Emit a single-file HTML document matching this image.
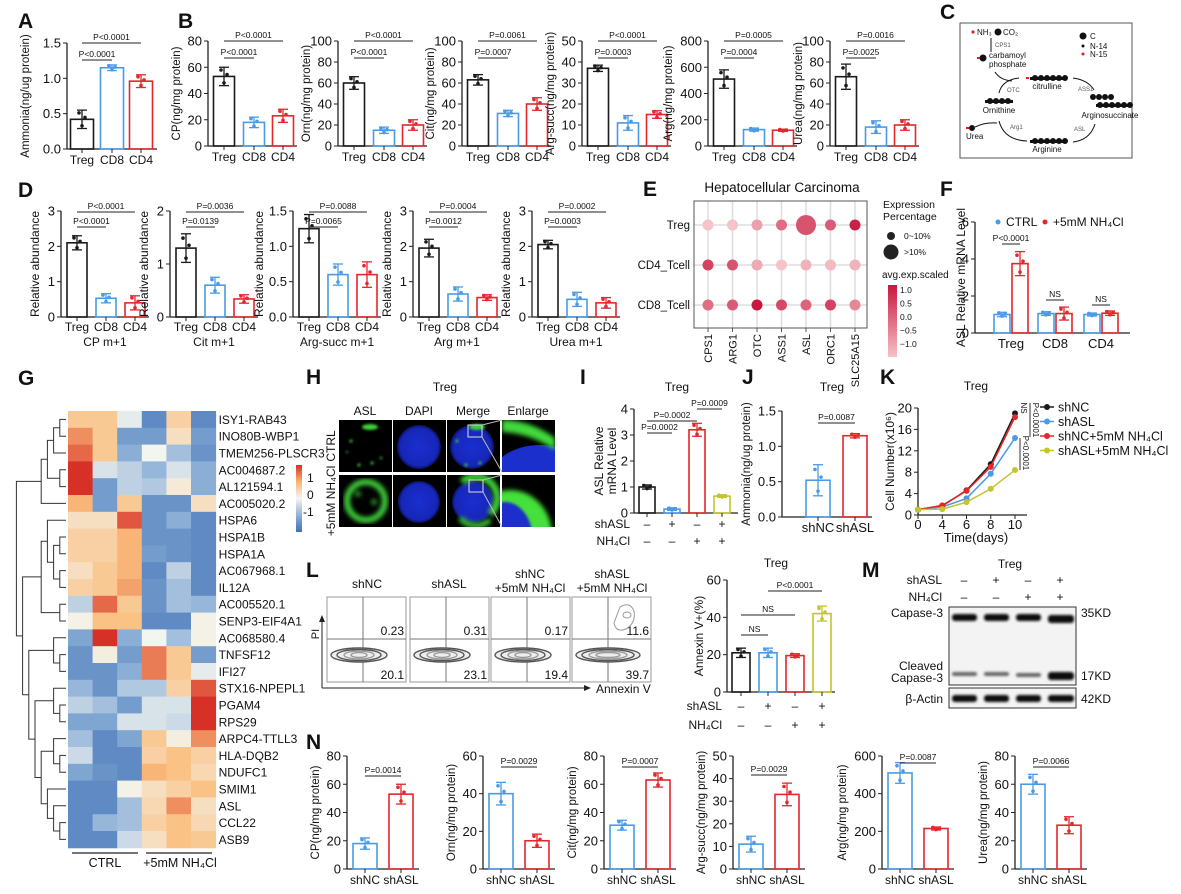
<!DOCTYPE html>
<html><head><meta charset="utf-8"><style>
html,body{margin:0;padding:0;background:#fff;}
svg{display:block;font-family:"Liberation Sans",Arial,sans-serif;}
</style></head><body>
<svg id="fig" xmlns="http://www.w3.org/2000/svg" width="1181" height="894" viewBox="0 0 1181 894">
<defs>
<radialGradient id="gblue" cx="50%" cy="50%" r="50%"><stop offset="0" stop-color="#1a2fd0"/><stop offset="0.85" stop-color="#1626b8"/><stop offset="1" stop-color="#0a1060"/></radialGradient>
<linearGradient id="gcbar" x1="0" y1="0" x2="0" y2="1"><stop offset="0" stop-color="#d73027"/><stop offset="0.25" stop-color="#fbb56f"/><stop offset="0.5" stop-color="#f4f6f0"/><stop offset="0.75" stop-color="#8fb2d8"/><stop offset="1" stop-color="#3f6fb5"/></linearGradient>
<linearGradient id="ecbar" x1="0" y1="0" x2="0" y2="1"><stop offset="0" stop-color="#c8163f"/><stop offset="1" stop-color="#f6c3c6"/></linearGradient>
<clipPath id="c1"><rect x="339" y="420" width="53" height="52"/></clipPath>
<clipPath id="c2"><rect x="393" y="420" width="53" height="52"/></clipPath>
<clipPath id="c3"><rect x="447" y="420" width="53" height="52"/></clipPath>
<clipPath id="c4"><rect x="502" y="420" width="53" height="52"/></clipPath>
<clipPath id="c5"><rect x="339" y="475" width="53" height="52"/></clipPath>
<clipPath id="c6"><rect x="393" y="475" width="53" height="52"/></clipPath>
<clipPath id="c7"><rect x="447" y="475" width="53" height="52"/></clipPath>
<clipPath id="c8"><rect x="502" y="475" width="53" height="52"/></clipPath>
<filter id="blur1"><feGaussianBlur stdDeviation="1.2"/></filter>
<filter id="blur2"><feGaussianBlur stdDeviation="2.5"/></filter>
</defs>

<g font-size="21" font-weight="bold" fill="#111">
<text x="18" y="28">A</text>
<text x="178" y="28">B</text>
<text x="940" y="19">C</text>
<text x="18" y="197">D</text>
<text x="643" y="196">E</text>
<text x="940" y="196">F</text>
<text x="18" y="385">G</text>
<text x="306" y="384">H</text>
<text x="580" y="384">I</text>
<text x="742" y="384">J</text>
<text x="880" y="384">K</text>
<text x="306" y="577">L</text>
<text x="862" y="577">M</text>
<text x="306" y="749">N</text>
</g>

<g font-size="8" fill="#111">
<rect x="960" y="23" width="172" height="135" fill="#fff" stroke="#555" stroke-width="1"/>
<circle cx="973" cy="32" r="1.6" fill="#d22"/>
<text x="977" y="35">NH₃</text>
<circle cx="998" cy="32" r="3.5" fill="#111"/>
<text x="1003" y="35">CO₂</text>
<line x1="991" y1="38" x2="991" y2="52" stroke="#111"/>
<text x="995" y="47" font-size="6" fill="#555">CPS1</text>
<circle cx="983" cy="58" r="3.5" fill="#111"/><rect x="977" y="57" width="3" height="2" fill="#d22"/>
<text x="989" y="58">carbamoyl</text>
<text x="989" y="67">phosphate</text>
<circle cx="1083" cy="36" r="3.5" fill="#111"/><text x="1090" y="39">C</text>
<circle cx="1083" cy="46" r="1.5" fill="#111"/><text x="1090" y="49">N-14</text>
<circle cx="1083" cy="54" r="1.5" fill="#d22"/><text x="1090" y="57">N-15</text>
<g fill="#111"><rect x="1030" y="77" width="36" height="3"/><circle cx="1035" cy="78" r="3"/><circle cx="1041" cy="78" r="3"/><circle cx="1047" cy="78" r="3"/><circle cx="1053" cy="78" r="3"/><circle cx="1059" cy="78" r="3"/><circle cx="1065" cy="78" r="3"/><rect x="1026" y="77" width="3" height="2" fill="#d22"/></g>
<text x="1047" y="89" text-anchor="middle">citrulline</text>
<path d="M1073 78 Q1088 80 1094 90" fill="none" stroke="#111"/>
<text x="1078" y="91" font-size="6" fill="#555">ASS1</text>
<g fill="#111"><circle cx="1093" cy="97" r="3"/><circle cx="1099" cy="97" r="3"/><circle cx="1105" cy="97" r="3"/><circle cx="1111" cy="97" r="3"/><rect x="1096" y="104" width="34" height="3"/><circle cx="1100" cy="105" r="3"/><circle cx="1106" cy="105" r="3"/><circle cx="1112" cy="105" r="3"/><circle cx="1118" cy="105" r="3"/><circle cx="1124" cy="105" r="3"/><circle cx="1130" cy="105" r="3"/></g>
<text x="1110" y="118" text-anchor="middle">Arginosuccinate</text>
<path d="M1095 124 Q1090 140 1073 142" fill="none" stroke="#111"/>
<text x="1074" y="131" font-size="6" fill="#555">ASL</text>
<g fill="#111"><rect x="1030" y="140" width="36" height="3"/><circle cx="1035" cy="141" r="3"/><circle cx="1041" cy="141" r="3"/><circle cx="1047" cy="141" r="3"/><circle cx="1053" cy="141" r="3"/><circle cx="1059" cy="141" r="3"/><circle cx="1065" cy="141" r="3"/></g>
<text x="1047" y="152" text-anchor="middle">Arginine</text>
<path d="M1027 141 Q1004 140 999 121" fill="none" stroke="#111"/>
<text x="1010" y="129" font-size="6" fill="#555">Arg1</text>
<path d="M997 123 Q985 122 975 127" fill="none" stroke="#111"/>
<circle cx="972" cy="128" r="3" fill="#111"/><rect x="966" y="127" width="3" height="2" fill="#d22"/>
<text x="966" y="139">Urea</text>
<g fill="#111"><rect x="985" y="100" width="28" height="3"/><circle cx="990" cy="101" r="3"/><circle cx="996" cy="101" r="3"/><circle cx="1002" cy="101" r="3"/><circle cx="1008" cy="101" r="3"/></g>
<text x="999" y="113" text-anchor="middle">Ornithine</text>
<path d="M999 93 Q1002 80 1019 78" fill="none" stroke="#111"/>
<path d="M995 72 Q1000 80 1012 81" fill="none" stroke="#111"/>
<text x="1007" y="92" font-size="6" fill="#555">OTC</text>
</g>

<g>
<text x="445" y="391" font-size="12" text-anchor="middle" fill="#111">Treg</text>
<text x="365" y="415" font-size="12" text-anchor="middle" fill="#111">ASL</text>
<text x="419" y="415" font-size="12" text-anchor="middle" fill="#111">DAPI</text>
<text x="473" y="415" font-size="12" text-anchor="middle" fill="#111">Merge</text>
<text x="528" y="415" font-size="12" text-anchor="middle" fill="#111">Enlarge</text>
<text transform="translate(335,446) rotate(-90)" font-size="12" text-anchor="middle" fill="#111">CTRL</text>
<text transform="translate(335,501) rotate(-90)" font-size="12" text-anchor="middle" fill="#111">+5mM NH₄Cl</text>
<rect x="339" y="420" width="53" height="52" fill="#000"/>
<g clip-path="url(#c1)" fill="#3fd23a" filter="url(#blur1)"><ellipse cx="370" cy="427" rx="8" ry="3"/><circle cx="351" cy="441" r="1.5"/><circle cx="359" cy="465" r="1.5"/><circle cx="372" cy="463" r="1.5"/><circle cx="381" cy="458" r="1.2"/><circle cx="347" cy="452" r="1"/></g>
<rect x="393" y="420" width="53" height="52" fill="#000"/>
<circle cx="419" cy="447" r="22" fill="url(#gblue)" clip-path="url(#c2)"/>
<rect x="447" y="420" width="53" height="52" fill="#000"/>
<circle cx="472" cy="447" r="22" fill="url(#gblue)" clip-path="url(#c3)"/>
<g clip-path="url(#c3)" fill="#3fd23a" filter="url(#blur1)"><ellipse cx="477" cy="427" rx="8" ry="3"/><circle cx="457" cy="441" r="1.5"/><circle cx="466" cy="465" r="1.5"/><circle cx="480" cy="463" r="1.5"/></g>
<rect x="468" y="425" width="14" height="12" fill="none" stroke="#ddd" stroke-width="1"/>
<line x1="482" y1="425" x2="502" y2="420" stroke="#bbb"/><line x1="482" y1="437" x2="502" y2="472" stroke="#bbb"/>
<rect x="502" y="420" width="53" height="52" fill="#000"/>
<g clip-path="url(#c4)"><ellipse cx="540" cy="480" rx="50" ry="35" fill="#1a2fcc"/><path d="M502 432 Q530 433 555 450 L555 438 Q530 420 502 420 Z" fill="#40d93a" filter="url(#blur2)"/></g>
<rect x="339" y="475" width="53" height="52" fill="#000"/>
<g clip-path="url(#c5)" fill="none" stroke="#3fd23a" filter="url(#blur2)"><circle cx="366" cy="501" r="19" stroke-width="6"/><circle cx="358" cy="494" r="2" fill="#3fd23a"/><circle cx="374" cy="502" r="2" fill="#3fd23a"/></g>
<rect x="393" y="475" width="53" height="52" fill="#000"/>
<circle cx="419" cy="502" r="21" fill="url(#gblue)" clip-path="url(#c6)"/>
<rect x="447" y="475" width="53" height="52" fill="#000"/>
<circle cx="473" cy="502" r="21" fill="url(#gblue)" clip-path="url(#c7)"/>
<g clip-path="url(#c7)" fill="none" stroke="#3fd23a" filter="url(#blur2)"><path d="M462 482 A21 21 0 0 1 490 514" stroke-width="7"/><path d="M460 518 A21 21 0 0 0 490 520" stroke-width="5"/></g>
<rect x="469" y="480" width="14" height="12" fill="none" stroke="#ddd"/>
<line x1="483" y1="480" x2="502" y2="475" stroke="#bbb"/><line x1="483" y1="492" x2="502" y2="527" stroke="#bbb"/>
<rect x="502" y="475" width="53" height="52" fill="#000"/>
<g clip-path="url(#c8)"><ellipse cx="510" cy="535" rx="42" ry="45" fill="#44e03a" filter="url(#blur2)"/><ellipse cx="505" cy="540" rx="28" ry="38" fill="#1a2fcc" filter="url(#blur1)"/></g>
<rect x="296" y="465" width="6" height="67" fill="url(#gcbar)"/>
<text x="307" y="482" font-size="12" fill="#111">1</text>
<text x="307" y="499" font-size="12" fill="#111">0</text>
<text x="303" y="516" font-size="12" fill="#111">-1</text>
</g>

<g font-size="12" fill="#111">
<text x="367" y="588" text-anchor="middle">shNC</text>
<text x="449" y="588" text-anchor="middle">shASL</text>
<text x="530" y="578" text-anchor="middle">shNC</text>
<text x="530" y="592" text-anchor="middle">+5mM NH₄Cl</text>
<text x="612" y="578" text-anchor="middle">shASL</text>
<text x="612" y="592" text-anchor="middle">+5mM NH₄Cl</text>
<line x1="322" y1="688" x2="322" y2="619" stroke="#222"/>
<path d="M319 622 L322 615 L325 622 Z" fill="#222"/>
<text transform="translate(319,634) rotate(-90)" text-anchor="middle" font-size="11">PI</text>
<line x1="322" y1="688" x2="587" y2="688" stroke="#222"/>
<path d="M584 685 L591 688 L584 691 Z" fill="#222"/>
<text x="596" y="693">Annexin V</text>
</g>

<g font-size="12" fill="#111">
<text x="1010" y="568" text-anchor="middle">Treg</text>
<text x="942" y="584" text-anchor="end">shASL</text>
<text x="942" y="601" text-anchor="end">NH₄Cl</text>
<text x="964" y="584" text-anchor="middle">–</text><text x="996" y="584" text-anchor="middle">+</text><text x="1028" y="584" text-anchor="middle">–</text><text x="1060" y="584" text-anchor="middle">+</text>
<text x="964" y="601" text-anchor="middle">–</text><text x="996" y="601" text-anchor="middle">–</text><text x="1028" y="601" text-anchor="middle">+</text><text x="1060" y="601" text-anchor="middle">+</text>
<rect x="949" y="607" width="127" height="78" fill="#f3f3f3" stroke="#333"/>
<rect x="949" y="688" width="127" height="20" fill="#f3f3f3" stroke="#333"/>
<g fill="#111" filter="url(#blur1)">
<rect x="952" y="614" width="25" height="7" rx="3"/><rect x="984" y="614" width="25" height="7" rx="3"/><rect x="1016" y="614" width="25" height="7" rx="3"/><rect x="1048" y="615" width="26" height="8" rx="3"/>
<rect x="952" y="672" width="25" height="4" rx="2" fill="#666"/><rect x="984" y="672" width="25" height="4" rx="2" fill="#666"/><rect x="1016" y="673" width="25" height="4" rx="2" fill="#666"/><rect x="1048" y="672" width="26" height="8" rx="3"/>
<rect x="952" y="695" width="25" height="7" rx="3"/><rect x="984" y="695" width="25" height="7" rx="3"/><rect x="1016" y="695" width="25" height="7" rx="3"/><rect x="1048" y="695" width="26" height="7" rx="3"/>
</g>
<text x="943" y="617" text-anchor="end">Capase-3</text>
<text x="943" y="670" text-anchor="end">Cleaved</text>
<text x="943" y="682" text-anchor="end">Capase-3</text>
<text x="943" y="703" text-anchor="end">β-Actin</text>
<text x="1081" y="617">35KD</text>
<text x="1081" y="680">17KD</text>
<text x="1081" y="703">42KD</text>
</g>
</svg>

<script>
// ===== DATA =====
const CATS3 = ['Treg','CD8','CD4'];
const A_vals = [0.42, 1.15, 0.96];   const A_err = [0.13, 0.04, 0.09];
const B1_vals = [53, 18, 23];  const B1_err = [7, 4, 5];
const B2_vals = [60, 15, 20];  const B2_err = [6, 3, 5];
const B3_vals = [63, 31, 40];  const B3_err = [5, 3, 6];
const B4_vals = [37, 11, 15];  const B4_err = [1.5, 3.5, 1.8];
const B5_vals = [510, 125, 120]; const B5_err = [70, 12, 8];
const B6_vals = [66, 18, 20];  const B6_err = [12, 6, 5];
const D1_vals = [2.1, 0.53, 0.4];  const D1_err = [0.2, 0.13, 0.2];
const D2_vals = [1.3, 0.6, 0.34];  const D2_err = [0.27, 0.15, 0.08];
const D3_vals = [1.25, 0.6, 0.6];  const D3_err = [0.2, 0.15, 0.18];
const D4_vals = [1.95, 0.65, 0.55]; const D4_err = [0.25, 0.2, 0.08];
const D5_vals = [2.05, 0.5, 0.4];  const D5_err = [0.12, 0.2, 0.15];
const F_ctrl = [1.0, 1.05, 1.0];  const F_ctrl_err = [0.12, 0.1, 0.08];
const F_nh4 = [3.75, 1.05, 1.07]; const F_nh4_err = [0.65, 0.35, 0.12];
const I_vals = [1.0, 0.15, 3.2, 0.65]; const I_err = [0.08, 0.05, 0.25, 0.05];
const J_vals = [0.52, 1.15]; const J_err = [0.22, 0.03];
const L_vals = [21, 21, 19.5, 42]; const L_err = [2.5, 2.5, 1, 4];
const N1_vals = [18, 53]; const N1_err = [4, 7];
const N2_vals = [40, 15]; const N2_err = [6, 3.5];
const N3_vals = [31, 63]; const N3_err = [3.5, 5];
const N4_vals = [11, 33]; const N4_err = [3.5, 5];
const N5_vals = [510, 215]; const N5_err = [55, 8];
const N6_vals = [60, 31]; const N6_err = [7, 6];
const K_days = ['0','4','6','8','10'];
const K_shNC = [1, 1.7, 4.6, 9.5, 19];
const K_shASL = [1, 1.5, 3.1, 7.7, 14.4];
const K_shNC_NH4 = [1, 1.8, 4.5, 9.0, 18.3];
const K_shASL_NH4 = [1, 1.1, 2.4, 4.9, 8.4];
const E_genes = ['CPS1','ARG1','OTC','ASS1','ASL','ORC1','SLC25A15'];
const E_rows = ['Treg','CD4_Tcell','CD8_Tcell'];
const E_expr = [[-1,-1,-0.6,0,0.3,0.2,0.9],[0.5,0.3,-0.7,-1,-0.8,-0.9,-0.8],[0,0.2,1,0.4,0.1,0.5,-0.3]];
const E_pct = [[0,0,0,0,1,0,0],[0,0,0,0,0,0,0],[0,0,0,0,0,0,0]];
const G_genes = ['ISY1-RAB43','INO80B-WBP1','TMEM256-PLSCR3','AC004687.2','AL121594.1','AC005020.2','HSPA6','HSPA1B','HSPA1A','AC067968.1','IL12A','AC005520.1','SENP3-EIF4A1','AC068580.4','TNFSF12','IFI27','STX16-NPEPL1','PGAM4','RPS29','ARPC4-TTLL3','HLA-DQB2','NDUFC1','SMIM1','ASL','CCL22','ASB9'];
const G_vals = [
[0.6,0.6,-0.1,-1.2,0.5,-1.2],[1.0,0.6,-1.0,-1.0,0.3,-1.0],[1.2,0.6,-0.8,0.0,-0.6,-1.1],[1.5,-0.2,-0.4,-0.7,-0.2,-0.8],
[1.5,-1.0,-0.4,-0.5,0.15,-0.8],[0.8,-1.0,0.6,-1.1,-1.1,0.3],[0.3,0.3,1.3,-1.1,-0.8,-1.2],[0.5,0.5,0.8,-1.1,-1.1,-1.2],
[0.5,0.5,0.8,-1.0,-1.1,-1.2],[0.3,0.6,0.8,-1.2,-0.4,-1.2],[0.5,0.6,0.9,-1.1,-0.6,-1.2],[-0.4,1.2,0.6,-1.1,-0.6,-0.7],
[0.05,0.7,0.7,-1.2,-1.2,0.05],[-0.9,1.5,-0.8,0.0,-0.6,0.05],[-1.1,0.1,-1.0,1.1,0.6,-1.0],[-1.1,-1.1,-0.8,1.1,0.6,-0.1],
[-0.7,-1.1,-0.5,-0.5,0.5,1.3],[-0.4,-0.6,-1.0,-0.2,-0.2,1.5],[-0.9,-0.9,-0.2,-0.2,-0.3,1.5],[-0.6,-1.2,-0.9,0.6,0.1,1.0],
[-0.3,-1.2,-1.2,0.5,0.7,0.5],[-0.9,-1.1,-1.2,0.8,0.7,0.4],[-1.2,-1.2,0.05,0.3,0.5,0.7],[-1.2,-1.2,-0.6,0.4,1.0,0.3],
[-1.2,-0.7,-0.6,0.5,0.7,0.4],[-1.2,-1.2,-0.3,0.3,0.7,0.6]];
const G_tree = [[[[[0,1],2],[3,4]],5],[[[6,[[7,8],[9,10]]],[11,12]],[[13,[14,15]],[[16,[17,18]],[[19,[20,21]],[22,[23,[24,25]]]]]]]];
const FLOW_q2 = ['0.23','0.31','0.17','11.6'];
const FLOW_q4 = ['20.1','23.1','19.4','39.7'];

// ===== HELPERS =====
const NS='http://www.w3.org/2000/svg';
const svg=document.getElementById('fig');
const BLK='#1a1a1a', BLU='#4a9ae6', RED='#e5262b', YEL='#c3c42e';
function mk(tag, attrs, parent, name){
  const e=document.createElementNS(NS,tag);
  for(const k in attrs) e.setAttribute(k,attrs[k]);
  
  
  (parent||svg).appendChild(e); return e;
}
function txt(x,y,s,opts,parent,name){
  const t=mk('text',Object.assign({x:x,y:y,'font-size':12,'text-anchor':'middle',fill:'#111'},opts||{}),parent,name);
  t.textContent=s; return t;
}
function sigBar(g,x1,x2,yy,label,name){
  mk('line',{x1:x1,x2:x2,y1:yy,y2:yy,stroke:'#222','stroke-width':1},g,name+'-line');
  txt((x1+x2)/2,yy-3,label,{'font-size':8.5},g,name+'-label');
}
function errDot(g,cx,yf,v,e,c,w,name){
  mk('rect',{x:cx-w/2,y:yf(v),width:w,height:Math.max(0,yf(0)-yf(v)),fill:'none',stroke:c,'stroke-width':1.6},g,name);
  mk('line',{x1:cx,x2:cx,y1:yf(v+e),y2:yf(Math.max(0,v-e)),stroke:c,'stroke-width':1.3},g,name+'-error');
  mk('line',{x1:cx-5,x2:cx+5,y1:yf(v+e),y2:yf(v+e),stroke:c,'stroke-width':1.3},g,name+'-cap');
  mk('line',{x1:cx-5,x2:cx+5,y1:yf(Math.max(0,v-e)),y2:yf(Math.max(0,v-e)),stroke:c,'stroke-width':1.3},g,name+'-cap');
  [[-3,0.7],[3,0.2],[0,-0.7]].forEach(d=>{
    mk('circle',{cx:cx+d[0],cy:yf(v+e*d[1]),r:1.8,fill:c},g,name+'-point');
  });
}
function axes(g,p,yf){
  mk('line',{x1:p.ax,y1:p.y1,x2:p.ax,y2:p.y0,stroke:'#222','stroke-width':1.3},g,'y-axis');
  mk('line',{x1:p.ax,y1:p.y0,x2:p.xend,y2:p.y0,stroke:'#222','stroke-width':1.3},g,'x-axis');
  p.ticks.forEach(t=>{
    mk('line',{x1:p.ax-4,x2:p.ax,y1:yf(t),y2:yf(t),stroke:'#222'},g,'y-tick');
    txt(p.ax-6,yf(t)+4.5,p.fmt?t.toFixed(p.fmt):String(t),{'text-anchor':'end','font-size':p.fs||13},g,'y-tick-label');
  });
  if(p.ylabel) txt(0,0,p.ylabel,{transform:'translate('+(p.ax-(p.ylo||30))+','+((p.y0+p.y1)/2)+') rotate(-90)','font-size':p.yfs||12},g,'y-axis-title');
}
function barPanel(p){
  const g=mk('g',{},svg,p.name);
  const yf=v=>p.y0-v/p.max*(p.y0-p.y1);
  axes(g,p,yf);
  p.vals.forEach((v,i)=>{
    const cx=p.ax+p.off[i];
    errDot(g,cx,yf,v,p.err[i],p.colors[i],p.w,'bar-'+(p.cats?p.cats[i]:i));
    mk('line',{x1:cx,x2:cx,y1:p.y0,y2:p.y0+4,stroke:'#222'},g,'x-tick');
    if(p.cats) txt(cx,p.y0+p.catdy,p.cats[i],{'font-size':p.cfs||12},g,'x-tick-label');
  });
  (p.sig||[]).forEach(s=>sigBar(g,p.ax+p.off[s[0]],p.ax+p.off[s[1]],s[3],s[2],'significance'));
  if(p.sub) txt(p.ax+44,p.y0+29,p.sub,{'font-size':12},g,'panel-subtitle');
  return {g:g,yf:yf};
}

// ===== A, B =====
barPanel({name:'panel-a-ammonia',ax:67,y0:149,y1:43,max:1.5,ticks:[0,0.5,1.0,1.5],fmt:1,off:[15,45,74],w:23,xend:157,vals:A_vals,err:A_err,colors:[BLK,BLU,RED],cats:CATS3,catdy:15,ylabel:'Ammonia(ng/ug protein)',ylo:38,yfs:11.5,sig:[[0,2,'P<0.0001',43],[0,1,'P<0.0001',60]]});
const Bdefs=[
 ['panel-b-cp',208,80,20,B1_vals,B1_err,'CP(ng/mg protein)',['P<0.0001','P<0.0001']],
 ['panel-b-orn',338,100,20,B2_vals,B2_err,'Orn(ng/mg protein)',['P<0.0001','P<0.0001']],
 ['panel-b-cit',462,100,20,B3_vals,B3_err,'Cit(ng/mg protein)',['P=0.0061','P=0.0007']],
 ['panel-b-argsucc',582,50,10,B4_vals,B4_err,'Arg-succ(ng/mg protein)',['P<0.0001','P=0.0003']],
 ['panel-b-arg',708,800,200,B5_vals,B5_err,'Arg(ng/mg protein)',['P=0.0005','P=0.0004']],
 ['panel-b-urea',830,100,20,B6_vals,B6_err,'Urea(ng/mg protein)',['P=0.0016','P=0.0025']]];
Bdefs.forEach(d=>{
  const ticks=[]; for(let t=0;t<=d[2];t+=d[3]) ticks.push(t);
  barPanel({name:d[0],ax:d[1],y0:146,y1:41,max:d[2],ticks:ticks,off:[16,46,75],w:21,xend:d[1]+89,vals:d[4],err:d[5],colors:[BLK,BLU,RED],cats:CATS3,catdy:15,ylabel:d[6],ylo:d[2]>=800?36:28,yfs:11.5,sig:[[0,2,d[7][0],41],[0,1,d[7][1],58]]});
});

// ===== D =====
const Ddefs=[
 ['panel-d-cp',61,3,[0,1,2,3],0,D1_vals,D1_err,['P<0.0001','P<0.0001'],'CP m+1'],
 ['panel-d-cit',170,2,[0,1,2],0,D2_vals,D2_err,['P=0.0036','P=0.0139'],'Cit m+1'],
 ['panel-d-argsucc',293,1.5,[0,0.5,1.0,1.5],1,D3_vals,D3_err,['P=0.0088','P=0.0065'],'Arg-succ m+1'],
 ['panel-d-arg',413,3,[0,1,2,3],0,D4_vals,D4_err,['P=0.0004','P=0.0012'],'Arg m+1'],
 ['panel-d-urea',532,3,[0,1,2,3],0,D5_vals,D5_err,['P=0.0002','P=0.0003'],'Urea m+1']];
Ddefs.forEach(d=>{
  barPanel({name:d[0],ax:d[1],y0:317,y1:211,max:d[2],ticks:d[3],fmt:d[4],off:[16,45,74],w:20,xend:d[1]+88,vals:d[5],err:d[6],colors:[BLK,BLU,RED],cats:CATS3,catdy:14,ylabel:'Relative abundance',ylo:d[4]?30:22,sig:[[0,2,d[7][0],212],[0,1,d[7][1],227]],sub:d[8]});
});

// ===== E dot plot =====
(function(){
  const g=mk('g',{},svg,'panel-e-dotplot');
  const gx=i=>708+i*24.5, gy=j=>225+j*40;
  txt(782,192,'Hepatocellular Carcinoma',{'font-size':13.5},g,'e-title');
  E_genes.forEach((n,i)=>mk('line',{x1:gx(i),x2:gx(i),y1:201,y2:328,stroke:'#ddd','stroke-width':1.5},g,'grid-line'));
  E_rows.forEach((n,j)=>mk('line',{x1:694,x2:867,y1:gy(j),y2:gy(j),stroke:'#ddd','stroke-width':1.5},g,'grid-line'));
  mk('rect',{x:694,y:201,width:173,height:127,fill:'none',stroke:'#555'},g,'e-frame');
  const col=v=>{const t=(v+1)/2; const a=[246,195,198], b=[200,22,63];
    return 'rgb('+a.map((c,k)=>Math.round(c+(b[k]-c)*t)).join(',')+')';};
  E_rows.forEach((r,j)=>{
    txt(690,gy(j)+4,r,{'text-anchor':'end','font-size':11.5},g,'e-row-label');
    E_genes.forEach((n,i)=>{
      mk('circle',{cx:gx(i),cy:gy(j),r:E_pct[j][i]?10:5.5,fill:col(E_expr[j][i])},g,'dot-'+r+'-'+n);
    });
  });
  E_genes.forEach((n,i)=>{
    mk('line',{x1:gx(i),x2:gx(i),y1:328,y2:332,stroke:'#555'},g,'x-tick');
    txt(0,0,n,{transform:'translate('+(gx(i)+4)+',334) rotate(-90)','text-anchor':'end','font-size':11},g,'e-gene-label');
  });
  txt(883,208,'Expression',{'text-anchor':'start','font-size':10.5},g,'e-legend-title');
  txt(883,220,'Percentage',{'text-anchor':'start','font-size':10.5},g,'e-legend-title');
  mk('circle',{cx:891,cy:236,r:4,fill:'#222'},g,'e-size-small');
  txt(904,239,'0~10%',{'text-anchor':'start','font-size':8.5},g,'e-size-label');
  mk('circle',{cx:891,cy:252,r:7.5,fill:'#222'},g,'e-size-large');
  txt(904,255,'>10%',{'text-anchor':'start','font-size':8.5},g,'e-size-label');
  txt(882,278,'avg.exp.scaled',{'text-anchor':'start','font-size':10},g,'e-color-title');
  mk('rect',{x:888,y:285,width:9,height:72,fill:'url(#ecbar)'},g,'e-colorbar');
  ['1.0','0.5','0.0','−0.5','−1.0'].forEach((s,k)=>txt(900,293+k*13.5,s,{'text-anchor':'start','font-size':8.5},g,'e-colorbar-label'));
})();

// ===== F grouped bars =====
(function(){
  const p={ax:975,y0:333,y1:222,max:6,ticks:[0,2,4,6],xend:1130,ylabel:'ASL Relative mRNA Level',ylo:10,yfs:12};
  const g=mk('g',{},svg,'panel-f-asl-mrna');
  const yf=v=>p.y0-v/p.max*(p.y0-p.y1);
  axes(g,p,yf);
  const grp=[36,80,126];
  CATS3.forEach((c,i)=>{
    const cx=p.ax+grp[i];
    errDot(g,cx-9,yf,F_ctrl[i],F_ctrl_err[i],BLU,16,'bar-ctrl-'+c);
    errDot(g,cx+9,yf,F_nh4[i],F_nh4_err[i],RED,16,'bar-nh4cl-'+c);
    txt(cx,p.y0+15,c,{'font-size':13},g,'x-tick-label');
  });
  sigBar(g,p.ax+grp[0]-9,p.ax+grp[0]+9,244,'P<0.0001','significance');
  sigBar(g,p.ax+grp[1]-9,p.ax+grp[1]+9,300,'NS','significance');
  sigBar(g,p.ax+grp[2]-9,p.ax+grp[2]+9,305,'NS','significance');
  mk('circle',{cx:998,cy:222,r:2.5,fill:BLU},g,'legend-ctrl-marker');
  txt(1006,226,'CTRL',{'text-anchor':'start','font-size':12},g,'legend-ctrl');
  mk('circle',{cx:1045,cy:222,r:2.5,fill:RED},g,'legend-nh4cl-marker');
  txt(1053,226,'+5mM NH₄Cl',{'text-anchor':'start','font-size':12},g,'legend-nh4cl');
})();

// ===== G heatmap =====
(function(){
  const g=mk('g',{},svg,'panel-g-heatmap');
  const x0=68, cw=24.6, y0=411, rh=16.8;
  const stops=[[-1.5,[63,111,181]],[-0.75,[143,178,216]],[0,[243,245,239]],[0.75,[251,190,125]],[1.5,[215,48,39]]];
  const col=v=>{v=Math.max(-1.5,Math.min(1.5,v));for(let k=0;k<4;k++){const a=stops[k],b=stops[k+1];if(v<=b[0]){const t=(v-a[0])/(b[0]-a[0]);return 'rgb('+a[1].map((c,m)=>Math.round(c+(b[1][m]-c)*t)).join(',')+')';}}};
  G_vals.forEach((row,r)=>{
    row.forEach((v,c)=>mk('rect',{x:x0+c*cw,y:y0+r*rh,width:cw+0.5,height:rh+0.5,fill:col(v)},g,'cell-'+G_genes[r]+'-'+c));
    txt(x0+6*cw+3,y0+r*rh+rh/2+4.5,G_genes[r],{'text-anchor':'start','font-size':12},g,'row-label');
  });
  function depth(n){return Array.isArray(n)?1+Math.max(depth(n[0]),depth(n[1])):0;}
  function draw(n){
    if(!Array.isArray(n)) return {y:y0+n*rh+rh/2,x:x0-2};
    const a=draw(n[0]), b=draw(n[1]); const x=x0-2-depth(n)*6.2;
    mk('path',{d:'M'+a.x+' '+a.y+'H'+x+'V'+b.y+'H'+b.x,fill:'none',stroke:'#333','stroke-width':1},g,'dendrogram-branch');
    return {y:(a.y+b.y)/2,x:x};
  }
  draw(G_tree);
  mk('line',{x1:72,x2:138,y1:853,y2:853,stroke:'#222','stroke-width':1.3},g,'group-line-ctrl');
  mk('line',{x1:146,x2:212,y1:853,y2:853,stroke:'#222','stroke-width':1.3},g,'group-line-nh4cl');
  txt(105,867,'CTRL',{'font-size':12.5},g,'group-label-ctrl');
  txt(180,867,'+5mM NH₄Cl',{'font-size':12.5},g,'group-label-nh4cl');
})();

// ===== I =====
(function(){
  const r=barPanel({name:'panel-i-asl-mrna',ax:634,y0:513,y1:409,max:4,ticks:[0,1,2,3,4],off:[13,38,63,88],w:16,xend:738,vals:I_vals,err:I_err,colors:[BLK,BLU,RED,YEL],ylabel:'ASL Relative',ylo:31,sig:[[0,1,'P=0.0002',433],[0,2,'P=0.0002',421],[2,3,'P=0.0009',409]]});
  txt(0,0,'mRNA Level',{transform:'translate(616,461) rotate(-90)','font-size':12},r.g,'y-axis-title-2');
  txt(677,391,'Treg',{'font-size':12},r.g,'i-title');
  txt(630,528,'shASL',{'text-anchor':'end','font-size':12},r.g,'row-label-shasl');
  txt(630,545,'NH₄Cl',{'text-anchor':'end','font-size':12},r.g,'row-label-nh4cl');
  ['–','+','–','+'].forEach((s,i)=>txt(647+i*25,528,s,{},r.g,'shasl-sign'));
  ['–','–','+','+'].forEach((s,i)=>txt(647+i*25,545,s,{},r.g,'nh4cl-sign'));
})();

// ===== J =====
(function(){
  const r=barPanel({name:'panel-j-ammonia',ax:782,y0:517,y1:411,max:1.5,ticks:[0,0.5,1.0,1.5],fmt:1,off:[36,73],w:24,xend:872,vals:J_vals,err:J_err,colors:[BLU,RED],cats:['shNC','shASL'],catdy:15,cfs:13,ylabel:'Ammonia(ng/ug protein)',ylo:32,yfs:11.5,sig:[[0,1,'P=0.0087',423]]});
  txt(832,391,'Treg',{'font-size':12},r.g,'j-title');
})();

// ===== K line chart =====
(function(){
  const g=mk('g',{},svg,'panel-k-growth');
  const p={ax:918,y0:515,y1:408,max:20,ticks:[0,4,8,12,16,20],xend:1027,ylabel:'Cell Number(x10⁶)',ylo:24};
  const yf=v=>p.y0-v/p.max*(p.y0-p.y1);
  const xf=i=>918+i*(1015-918)/(K_days.length-1);
  axes(g,p,yf);
  K_days.forEach((d,i)=>{mk('line',{x1:xf(i),x2:xf(i),y1:p.y0,y2:p.y0+4,stroke:'#222'},g,'x-tick');txt(xf(i),p.y0+14,d,{'font-size':13},g,'x-tick-label');});
  txt(976,542,'Time(days)',{'font-size':13},g,'x-axis-title');
  txt(976,390,'Treg',{'font-size':12},g,'k-title');
  const series=[[K_shNC,BLK,'shNC'],[K_shASL,BLU,'shASL'],[K_shNC_NH4,RED,'shNC+5mM NH₄Cl'],[K_shASL_NH4,YEL,'shASL+5mM NH₄Cl']];
  series.forEach((s,k)=>{
    mk('polyline',{points:s[0].map((v,i)=>xf(i)+','+yf(v)).join(' '),fill:'none',stroke:s[1],'stroke-width':1.5},g,'line-'+s[2]);
    s[0].forEach((v,i)=>mk('circle',{cx:xf(i),cy:yf(v),r:3,fill:s[1]},g,'point-'+s[2]));
    const ly=407+k*14.5;
    mk('line',{x1:1040,x2:1054,y1:ly,y2:ly,stroke:s[1],'stroke-width':1.5},g,'legend-line');
    mk('circle',{cx:1047,cy:ly,r:3,fill:s[1]},g,'legend-marker');
    txt(1058,ly+4.5,s[2],{'text-anchor':'start','font-size':12.5},g,'legend-entry');
  });
  mk('line',{x1:1030,x2:1030,y1:403,y2:437,stroke:'#333'},g,'sig-line');
  mk('line',{x1:1020,x2:1020,y1:438,y2:470,stroke:'#333'},g,'sig-line');
  txt(0,0,'NS',{transform:'translate(1021,408) rotate(90)','font-size':8},g,'sig-ns');
  txt(0,0,'P<0.0001',{transform:'translate(1033,420) rotate(90)','font-size':8},g,'sig-p');
  txt(0,0,'P<0.0001',{transform:'translate(1023,453) rotate(90)','font-size':8},g,'sig-p');
})();

// ===== L flow numbers + contours =====
(function(){
  const g=mk('g',{},svg,'panel-l-flow-plots');
  const bx=[327,410,491,572];
  bx.forEach((x,i)=>{
    mk('rect',{x:x,y:597,width:79,height:85,fill:'#fff',stroke:'#999'},g,'flow-plot-'+i);
    mk('line',{x1:x+36,x2:x+36,y1:597,y2:682,stroke:'#777'},g,'flow-gate-v');
    mk('line',{x1:x,x2:x+79,y1:639,y2:639,stroke:'#777'},g,'flow-gate-h');
    [[28,7],[22,5.5],[15,4],[8,2.5]].forEach((e,k)=>mk('ellipse',{cx:x+32+(i==3?4:0),cy:655,rx:e[0]+(i==3?4:0),ry:e[1],fill:k==0?'#eee':'none',stroke:k<2?'#555':'#999','stroke-width':1.4},g,'flow-contour'));
    txt(x+77,635,FLOW_q2[i],{'text-anchor':'end','font-size':12},g,'flow-q2-value');
    txt(x+77,679,FLOW_q4[i],{'text-anchor':'end','font-size':12},g,'flow-q4-value');
  });
  mk('path',{d:'M620 607 q10 -6 14 4 q2 12 -8 18 q-10 4 -12 -6 z',fill:'none',stroke:'#999'},g,'flow-contour-apoptotic');
  mk('ellipse',{cx:627,cy:615,rx:4,ry:3,fill:'none',stroke:'#999'},g,'flow-contour-apoptotic');
})();

// ===== L bars =====
(function(){
  const r=barPanel({name:'panel-l-annexin',ax:727,y0:692,y1:580,max:60,ticks:[0,20,40,60],off:[14,41,68,95],w:18,xend:835,vals:L_vals,err:L_err,colors:[BLK,BLU,RED,YEL],ylabel:'Annexin V+(%)',ylo:24,sig:[[0,1,'NS',635],[0,2,'NS',615],[1,3,'P<0.0001',591]]});
  txt(776,567,'Treg',{'font-size':12},r.g,'l-title');
  txt(722,710,'shASL',{'text-anchor':'end','font-size':12},r.g,'row-label-shasl');
  txt(722,729,'NH₄Cl',{'text-anchor':'end','font-size':12},r.g,'row-label-nh4cl');
  ['–','+','–','+'].forEach((s,i)=>txt(741+i*27,710,s,{},r.g,'shasl-sign'));
  ['–','–','+','+'].forEach((s,i)=>txt(741+i*27,729,s,{},r.g,'nh4cl-sign'));
})();

// ===== N =====
const Ndefs=[
 ['panel-n-cp',347,80,20,N1_vals,N1_err,'CP(ng/mg protein)','P=0.0014',776],
 ['panel-n-orn',483,60,20,N2_vals,N2_err,'Orn(ng/mg protein)','P=0.0029',767],
 ['panel-n-cit',604,80,20,N3_vals,N3_err,'Cit(ng/mg protein)','P=0.0007',767],
 ['panel-n-argsucc',733,50,10,N4_vals,N4_err,'Arg-succ(ng/mg protein)','P=0.0029',775],
 ['panel-n-arg',882,600,200,N5_vals,N5_err,'Arg(ng/mg protein)','P=0.0087',763],
 ['panel-n-urea',1015,80,20,N6_vals,N6_err,'Urea(ng/mg protein)','P=0.0066',767]];
Ndefs.forEach(d=>{
  const ticks=[]; for(let t=0;t<=d[2];t+=d[3]) ticks.push(t);
  barPanel({name:d[0],ax:d[1],y0:869,y1:756,max:d[2],ticks:ticks,off:[18,54],w:24,xend:d[1]+72,vals:d[4],err:d[5],colors:[BLU,RED],cats:['shNC','shASL'],catdy:15,ylabel:d[6],ylo:d[2]>=600?36:28,yfs:11.5,sig:[[0,1,d[7],d[8]]]});
});
</script>
</body></html>
